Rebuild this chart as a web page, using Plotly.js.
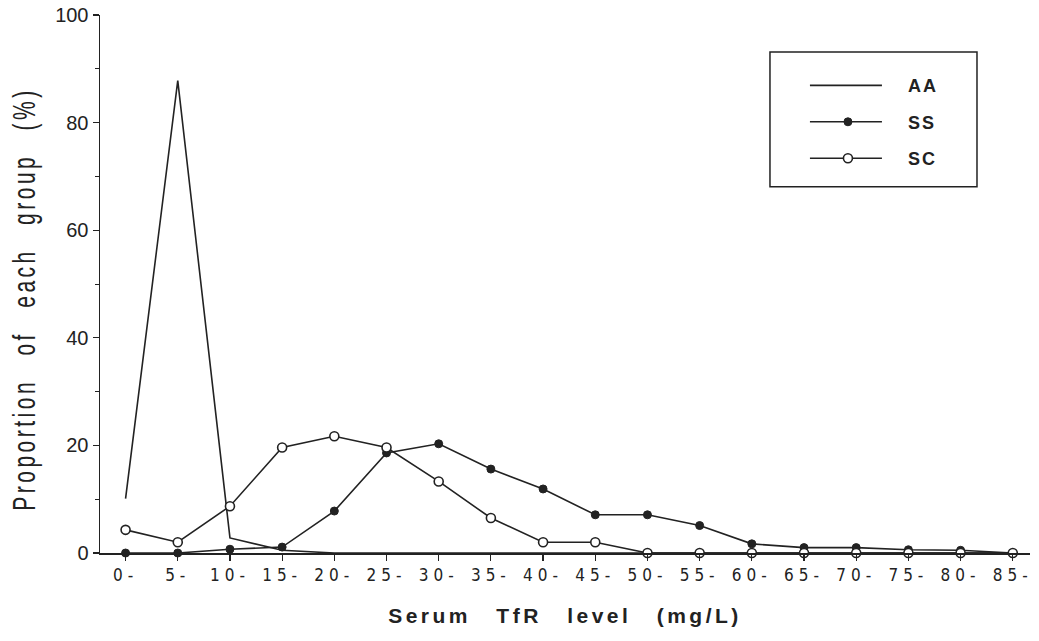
<!DOCTYPE html>
<html>
<head>
<meta charset="utf-8">
<script src="https://cdn.plot.ly/plotly-3.0.1.min.js"></script>
<style>
  html, body { margin: 0; padding: 0; background: #ffffff; }
  #chart { width: 1039px; height: 641px; }
  .xtick text { letter-spacing: 5px; }
  .g-xtitle text { letter-spacing: 3.5px; word-spacing: 16px; }
  .g-ytitle text { letter-spacing: 3.5px; word-spacing: 14px; }
  .legendtext { letter-spacing: 2px; }
</style>
</head>
<body>
<div id="chart"></div>
<script>
// Categories (serum TfR level bins, mg/L)
const categories = ["0-","5-","10-","15-","20-","25-","30-","35-","40-","45-","50-","55-","60-","65-","70-","75-","80-","85-"];

// Proportion of each group (%)
const seriesAA = [10.1, 87.8, 2.8, 0.5, 0, 0, 0, 0, 0, 0, 0, 0, 0, 0, 0, 0, 0, 0];
const seriesSS = [0, 0, 0.7, 1.1, 7.8, 18.6, 20.3, 15.6, 11.9, 7.1, 7.1, 5.1, 1.7, 1.0, 1.0, 0.6, 0.5, 0];
const seriesSC = [4.3, 2.0, 8.7, 19.6, 21.7, 19.6, 13.3, 6.5, 2.0, 2.0, 0, 0, 0, 0, 0, 0, 0, 0];

const seriesNames = ["AA", "SS", "SC"];
const yTickVals = [0, 20, 40, 60, 80, 100];

const lineColor = "#222222";
const xIdx = categories.map((c, i) => i);

const traces = [
  {
    x: xIdx, y: seriesAA, name: seriesNames[0], legendgroup: "a",
    type: "scatter", mode: "lines",
    line: { color: lineColor, width: 1.6 },
    cliponaxis: false
  },
  {
    x: xIdx, y: seriesSS, name: seriesNames[1], legendgroup: "b",
    type: "scatter", mode: "lines+markers",
    line: { color: lineColor, width: 1.6 },
    marker: { symbol: "circle", size: 8, color: lineColor, line: { color: lineColor, width: 1 } },
    cliponaxis: false
  },
  {
    x: xIdx, y: seriesSC, name: seriesNames[2], legendgroup: "c",
    type: "scatter", mode: "lines+markers",
    line: { color: lineColor, width: 1.6 },
    marker: { symbol: "circle", size: 9, color: "#ffffff", line: { color: lineColor, width: 1.6 } },
    cliponaxis: false
  }
];

const layout = {
  width: 1039,
  height: 641,
  margin: { l: 100, r: 9, t: 15, b: 87.5 },
  paper_bgcolor: "#ffffff",
  plot_bgcolor: "#ffffff",
  font: { family: "Liberation Sans, Arial, sans-serif", color: "#222222" },
  showlegend: true,
  legend: {
    x: 0.758, y: 0.903, xanchor: "left", yanchor: "top",
    bgcolor: "rgba(0,0,0,0)",
    borderwidth: 0,
    traceorder: "grouped",
    tracegroupgap: 10,
    itemwidth: 93,
    font: { family: "Liberation Sans, Arial, sans-serif", size: 18, color: "#222222", weight: "bold" }
  },
  shapes: [
    {
      type: "rect", xref: "paper", yref: "paper",
      x0: 0.7204, x1: 0.9430, y0: 0.6807, y1: 0.9313,
      line: { color: "#222222", width: 1.5 }, fillcolor: "rgba(0,0,0,0)"
    }
  ],
  xaxis: {
    range: [-0.49, 17.33],
    tickmode: "array",
    tickvals: xIdx,
    ticktext: categories,
    ticks: "outside",
    ticklen: 6,
    tickwidth: 1.2,
    tickcolor: "#222222",
    showline: true,
    linecolor: "#222222",
    linewidth: 1.5,
    showgrid: false,
    zeroline: false,
    tickfont: { family: "Liberation Sans Narrow, DejaVu Sans Condensed, Arial Narrow, sans-serif", size: 17, color: "#222222" },
    title: {
      text: "Serum TfR level (mg/L)",
      font: { family: "Liberation Sans, Arial, sans-serif", size: 21, color: "#222222", weight: "bold" },
      standoff: 24
    }
  },
  yaxis: {
    range: [0, 100],
    tickmode: "array",
    tickvals: yTickVals,
    ticks: "outside",
    ticklen: 6,
    tickwidth: 1.2,
    tickcolor: "#222222",
    minor: { dtick: 10, ticks: "outside", ticklen: 4, tickcolor: "#222222", tickwidth: 1 },
    showline: true,
    linecolor: "#222222",
    linewidth: 1.5,
    showgrid: false,
    zeroline: false,
    tickfont: { family: "Liberation Sans, Arial, sans-serif", size: 20, color: "#222222" },
    title: {
      text: "Proportion of each group (%)",
      font: { family: "Liberation Sans, Arial, sans-serif", size: 21, color: "#222222" },
      standoff: 20
    }
  }
};

Plotly.newPlot("chart", traces, layout, { staticPlot: true, displayModeBar: false }).then(function (gd) {
  // lengthen legend sample lines and move the sample markers along them
  gd.querySelectorAll(".legendlines path").forEach(function (p) { p.setAttribute("d", "M5,0h72"); });
  gd.querySelectorAll(".legendpoints path.scatterpts").forEach(function (p) { p.setAttribute("transform", "translate(43,0)"); });
  // the original y title is set in a tall, narrow face: stretch glyph height and recentre
  var g = gd.querySelector(".g-ytitle");
  var t = g && g.querySelector("text");
  if (t) {
    var r = t.getBoundingClientRect();
    var cx = r.left + r.width / 2, cy = r.top + r.height / 2;
    g.setAttribute("transform", "translate(24,299) scale(1.45,1) translate(" + (-cx) + "," + (-cy) + ")");
  }
});
</script>
</body>
</html>
